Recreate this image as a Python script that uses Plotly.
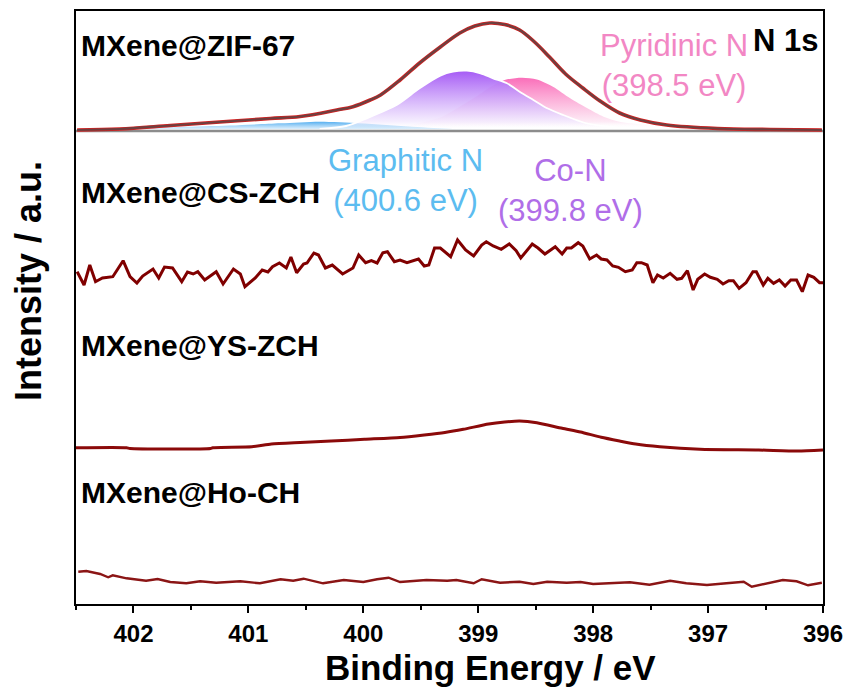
import plotly.graph_objects as go

# ---- MXene@ZIF-67: measured envelope and fitted N 1s components ----
zif_energy = [402.49, 402.12, 401.68, 401.25, 400.81, 400.55, 400.23, 400.09, 399.94,
              399.85, 399.68, 399.51, 399.33, 399.16, 399.03, 398.90, 398.77, 398.64,
              398.51, 398.38, 398.24, 398.09, 397.94, 397.77, 397.59, 397.36, 396.92,
              396.46, 396.01]
zif_intensity = [474, 475, 478.5, 482, 485.5, 487.5, 494, 497.3, 504, 509, 524, 541,
                 557, 571, 578, 581, 579.5, 574, 562, 547, 530, 516, 503, 491, 484,
                 479, 475.5, 474.5, 474]

baseline_energy = [402.5, 396.0]
baseline_intensity = [473, 473]

graphitic_energy = [402.41, 402.03, 401.60, 401.16, 400.72, 400.38, 400.03, 399.57,
                    399.22, 398.98]
graphitic_intensity = [474.5, 475.5, 477, 478.5, 480.7, 482.3, 480.7, 477.3, 475, 474]

pyridinic_energy = [399.71, 399.47, 399.32, 399.18, 399.04, 398.89, 398.77, 398.62,
                    398.49, 398.35, 398.20, 398.05, 397.91, 397.77, 397.53, 397.24]
pyridinic_intensity = [476, 482, 487, 496, 505.7, 517.3, 524, 526.3, 524.5, 517.3,
                       505.7, 495.7, 487.3, 482.3, 479, 476]

con_energy = [400.38, 400.15, 399.97, 399.71, 399.51, 399.33, 399.22, 399.10, 398.98,
              398.87, 398.75, 398.64, 398.52, 398.40, 398.26, 398.07, 397.85, 397.59]
con_intensity = [475, 478, 485.7, 499, 515.7, 528.3, 532.3, 533.3, 530.7, 525.7,
                 520.7, 512.3, 504, 495.7, 489, 481, 477, 475]

# ---- MXene@CS-ZCH (noisy spectrum) ----
cs_energy = [402.49, 402.43, 402.38, 402.33, 402.27, 402.18, 402.09, 402.03, 401.97,
             401.92, 401.83, 401.78, 401.73, 401.66, 401.58, 401.53, 401.48, 401.44,
             401.38, 401.28, 401.22, 401.13, 401.07, 401.03, 400.94, 400.88, 400.83,
             400.79, 400.73, 400.67, 400.63, 400.58, 400.52, 400.49, 400.43, 400.39,
             400.33, 400.27, 400.18, 400.09, 400.04, 399.98, 399.93, 399.88, 399.83,
             399.79, 399.73, 399.68, 399.62, 399.52, 399.47, 399.43, 399.38, 399.33,
             399.24, 399.18, 399.11, 399.04, 398.97, 398.93, 398.87, 398.80, 398.73,
             398.67, 398.63, 398.53, 398.48, 398.42, 398.33, 398.27, 398.23, 398.19,
             398.13, 398.09, 398.03, 397.97, 397.93, 397.88, 397.83, 397.78, 397.72,
             397.66, 397.62, 397.58, 397.53, 397.48, 397.44, 397.39, 397.33, 397.27,
             397.23, 397.18, 397.13, 397.09, 397.03, 396.98, 396.92, 396.87, 396.82,
             396.78, 396.73, 396.67, 396.61, 396.58, 396.52, 396.48, 396.43, 396.38,
             396.33, 396.28, 396.23, 396.18, 396.13, 396.08, 396.03, 396.00]
cs_intensity = [332.3, 319, 339, 322.3, 326, 327.3, 343.3, 327.3, 321, 328, 335, 326,
                337, 336, 322.3, 332, 330, 332.3, 324, 332.3, 320, 335, 330, 317.3,
                326, 334, 332, 337.3, 341, 336, 347, 331.3, 340, 341, 351, 349, 336,
                339, 330, 336, 349, 341.3, 343.3, 341, 351.3, 352.3, 342.3, 344,
                341.3, 345, 338, 339, 356, 356, 347.3, 364, 354, 348, 359, 362.3,
                358, 354.7, 360, 353.3, 346, 360, 356, 350, 357.3, 350, 356, 356,
                361.3, 358, 345, 349, 345, 344, 338, 336.7, 332.3, 334, 341.3, 341.3,
                339, 321.3, 329, 326, 330.7, 324.7, 325.7, 333.3, 314, 324.7, 330,
                326.7, 324.7, 320, 323.3, 323.3, 315.7, 321.3, 332.3, 332.3, 319,
                325.7, 320.7, 324, 318, 324, 324, 312.3, 329, 326.7, 321.3, 321.3]

# ---- MXene@YS-ZCH ----
ys_energy = [402.50, 402.06, 402.03, 401.33, 401.31, 400.97, 400.80, 400.55, 400.28,
             399.99, 399.68, 399.47, 399.29, 399.13, 398.91, 398.77, 398.64, 398.49,
             398.27, 398.11, 397.93, 397.77, 397.63, 397.42, 397.07, 396.56, 396.22,
             396.00]
ys_intensity = [156.3, 156.3, 155.5, 155.5, 156.3, 157.3, 160, 161.5, 163, 164.7, 166.5,
                169, 171.5, 174.7, 180, 182, 183, 181.3, 175.7, 172, 166.7, 163, 160,
                157.3, 154.7, 154, 153, 154]

# ---- MXene@Ho-CH ----
ho_energy = [402.48, 402.41, 402.29, 402.22, 402.18, 402.06, 401.89, 401.79, 401.68,
             401.54, 401.42, 401.28, 401.07, 400.90, 400.72, 400.61, 400.52, 400.35,
             400.17, 400.00, 399.88, 399.78, 399.68, 399.45, 399.27, 399.19, 399.04,
             398.97, 398.81, 398.64, 398.52, 398.40, 398.23, 398.11, 398.00, 397.82,
             397.68, 397.51, 397.33, 397.19, 397.01, 396.84, 396.69, 396.62, 396.52,
             396.35, 396.23, 396.13, 396.01]
ho_intensity = [32.3, 33, 30, 26.7, 28.7, 25.7, 23.3, 25, 22, 20.7, 22.7, 21.3, 22.7,
                20.7, 24.7, 23.3, 25.3, 20.7, 24, 22, 24.7, 26.3, 22, 24, 23.3, 24,
                20.7, 24.7, 21.3, 22.3, 20, 22.3, 21.3, 22, 20, 21.3, 21.7, 19.3, 23.3,
                20.7, 19, 20.7, 22.3, 17.3, 20, 24, 22.7, 18.7, 21.3]

x_ticks = [402, 401, 400, 399, 398, 397, 396]

FONT = "Liberation Sans, Arial, sans-serif"
fig = go.Figure()


def component(x, y, rgb, pale, outline=None):
    """Fitted peak filled with a vertical gradient that fades to white at its base."""
    r, g, b = rgb
    pr, pg, pb = pale
    fig.add_trace(go.Scatter(
        x=x, y=y, mode="lines", fill="toself",
        line=dict(color=outline or "rgba(0,0,0,0)", width=1.8 if outline else 0,
                  shape="spline", smoothing=0.8),
        fillgradient=dict(type="vertical", colorscale=[
            [0, "rgba(255,255,255,0)"],
            [0.12, f"rgba({pr},{pg},{pb},0.85)"],
            [1, f"rgba({r},{g},{b},1)"]]),
        hoverinfo="skip", showlegend=False))


component(graphitic_energy, graphitic_intensity, (85, 175, 240), (215, 236, 252))
component(pyridinic_energy, pyridinic_intensity, (250, 110, 185), (253, 232, 244))
component(con_energy, con_intensity, (165, 90, 245), (244, 236, 254), outline="white")

fig.add_trace(go.Scatter(x=baseline_energy, y=baseline_intensity, mode="lines",
                         line=dict(color="#8c8c8c", width=2.5), showlegend=False))
fig.add_trace(go.Scatter(x=zif_energy, y=zif_intensity, mode="lines",
                         line=dict(color="#d62020", width=3.6, shape="spline"),
                         showlegend=False))
fig.add_trace(go.Scatter(x=zif_energy, y=zif_intensity, mode="lines",
                         line=dict(color="#6e4040", width=2.2, shape="spline"),
                         showlegend=False))

fig.add_trace(go.Scatter(x=cs_energy, y=cs_intensity, mode="lines",
                         line=dict(color="#800000", width=3), showlegend=False))
fig.add_trace(go.Scatter(x=ys_energy, y=ys_intensity, mode="lines",
                         line=dict(color="#8b0a0a", width=3, shape="spline",
                                   smoothing=0.6), showlegend=False))
fig.add_trace(go.Scatter(x=ho_energy, y=ho_intensity, mode="lines",
                         line=dict(color="#8b1515", width=2.4), showlegend=False))

# sample labels
for text, yv in [("MXene@ZIF-67", 559), ("MXene@CS-ZCH", 412),
                 ("MXene@YS-ZCH", 259), ("MXene@Ho-CH", 112)]:
    fig.add_annotation(x=402.475, y=yv, text=f"<b>{text}</b>", showarrow=False,
                       xanchor="left", yanchor="middle",
                       font=dict(family=FONT, size=30, color="black"))

fig.add_annotation(x=396.03, y=564, text="<b>N 1s</b>", showarrow=False,
                   xanchor="right", yanchor="middle",
                   font=dict(family=FONT, size=31, color="black"))

# component labels
for text, xv, yv, col in [("Pyridinic N<br>(398.5 eV)", 397.30, 539, "#f287c4"),
                          ("Graphitic N<br>(400.6 eV)", 399.63, 424, "#5cbcf0"),
                          ("Co-N<br>(399.8 eV)", 398.20, 414, "#b06ee8")]:
    fig.add_annotation(x=xv, y=yv, text=text, showarrow=False, xanchor="center",
                       yanchor="middle", align="center",
                       font=dict(family=FONT, size=31, color=col))

# axis titles
fig.add_annotation(xref="paper", yref="paper", x=(490 - 76) / 747, y=-(667 - 604) / 593,
                   text="<b>Binding Energy / eV</b>", showarrow=False,
                   xanchor="center", yanchor="middle",
                   font=dict(family=FONT, size=35, color="black"))
fig.add_annotation(xref="paper", yref="paper", x=-(76 - 28) / 747, y=(604 - 281) / 593,
                   text="<b>Intensity / a.u.</b>", showarrow=False, textangle=-90,
                   xanchor="center", yanchor="middle",
                   font=dict(family=FONT, size=36, color="black"))

fig.update_xaxes(range=[402.5, 396], tickvals=x_ticks,
                 ticktext=[str(v) for v in x_ticks],
                 ticks="outside", ticklen=7, tickwidth=2, tickcolor="black",
                 ticklabelstandoff=0, automargin=False,
                 minor=dict(dtick=0.5, tick0=396, ticks="outside", ticklen=4,
                            tickwidth=2, tickcolor="black"),
                 tickfont=dict(family=FONT, size=24, color="black", weight="bold"),
                 showline=True, linewidth=2, linecolor="black", mirror=True,
                 showgrid=False, zeroline=False)
fig.update_yaxes(range=[0, 593], showticklabels=False, ticks="", automargin=False,
                 showline=True, linewidth=2, linecolor="black", mirror=True,
                 showgrid=False, zeroline=False)

fig.update_layout(width=848, height=692, plot_bgcolor="white", paper_bgcolor="white",
                  margin=dict(l=76, r=25, t=11, b=88), showlegend=False)

fig.write_html("out.html")
